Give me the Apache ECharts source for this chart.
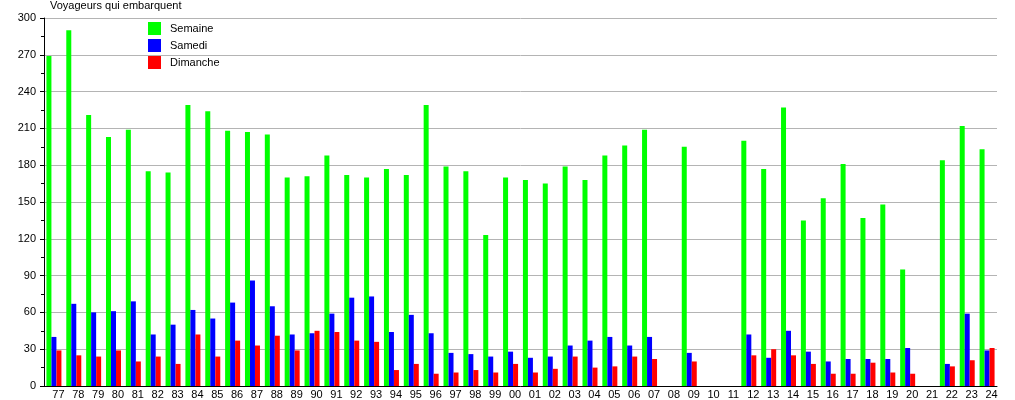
<!DOCTYPE html>
<html>
<head>
<meta charset="utf-8">
<script src="https://cdn.jsdelivr.net/npm/echarts@6/dist/echarts.min.js"></script>
<style>
  html, body { margin: 0; padding: 0; background: #fff; }
  #chart { width: 1015px; height: 400px; }
</style>
</head>
<body>
<div id="chart"></div>
<script>
// années (deux chiffres)
const annees = ['77', '78', '79', '80', '81', '82', '83', '84', '85', '86', '87', '88',
  '89', '90', '91', '92', '93', '94', '95', '96', '97', '98', '99', '00',
  '01', '02', '03', '04', '05', '06', '07', '08', '09', '10', '11', '12',
  '13', '14', '15', '16', '17', '18', '19', '20', '21', '22', '23', '24'];

const semaine = [269, 290, 221, 203, 209, 175, 174, 229, 224, 208, 207, 205,
  170, 171, 188, 172, 170, 177, 172, 229, 179, 175, 123, 170,
  168, 165, 179, 168, 188, 196, 209, null, 195, null, null, 200,
  177, 227, 135, 153, 181, 137, 148, 95, null, 184, 212, 193];

const samedi = [40, 67, 60, 61, 69, 42, 50, 62, 55, 68, 86, 65,
  42, 43, 59, 72, 73, 44, 58, 43, 27, 26, 24, 28,
  23, 24, 33, 37, 40, 33, 40, null, 27, null, null, 42,
  23, 45, 28, 20, 22, 22, 22, 31, null, 18, 59, 29];

const dimanche = [29, 25, 24, 29, 20, 24, 18, 42, 24, 37, 33, 41,
  29, 45, 44, 37, 36, 13, 18, 10, 11, 13, 11, 18,
  11, 14, 24, 15, 16, 24, 22, null, 20, null, null, 25,
  30, 25, 18, 10, 10, 19, 11, 10, null, 16, 21, 31];

const yTicks = [0, 30, 60, 90, 120, 150, 180, 210, 240, 270, 300];

const font = "'Liberation Sans', Arial, sans-serif";

const chart = echarts.init(document.getElementById('chart'));

const mkSerie = (name, data, color) => ({
  name: name,
  type: 'bar',
  data: data,
  barWidth: 5,
  barGap: '0%',
  itemStyle: { color: color },
  animation: false
});

chart.setOption({
  backgroundColor: '#fff',
  animation: false,
  title: {
    text: 'Voyageurs qui embarquent',
    left: 50,
    top: 0,
    padding: 0,
    textStyle: { fontFamily: font, fontSize: 11, fontWeight: 'normal', color: '#000' }
  },
  legend: {
    orient: 'vertical',
    left: 143,
    top: 17,
    itemWidth: 13,
    itemHeight: 13,
    itemGap: 4,
    icon: 'rect',
    textStyle: { fontFamily: font, fontSize: 11, color: '#000', padding: [0, 0, 0, 4] },
    data: ['Semaine', 'Samedi', 'Dimanche']
  },
  grid: { left: 44, right: 18, top: 18, bottom: 13, containLabel: false },
  xAxis: {
    type: 'category',
    data: annees,
    axisLine: { lineStyle: { color: '#000', width: 1 } },
    axisTick: { show: false },
    axisLabel: {
      interval: 0,
      margin: 3,
      fontFamily: font,
      fontSize: 11,
      color: '#000',
      padding: [0, 0, 0, 9]
    },
    splitLine: { show: false }
  },
  yAxis: {
    type: 'value',
    min: yTicks[0],
    max: yTicks[yTicks.length - 1],
    interval: 30,
    axisLine: { show: true, lineStyle: { color: '#000', width: 1 } },
    axisTick: { show: true, length: 4, lineStyle: { color: '#000' } },
    minorTick: { show: true, splitNumber: 2, length: 3, lineStyle: { color: '#000' } },
    axisLabel: { margin: 8, fontFamily: font, fontSize: 11, color: '#000' },
    splitLine: { show: true, lineStyle: { color: '#b4b4b4', width: 1 } }
  },
  series: [
    mkSerie('Semaine', semaine, '#00ff00'),
    mkSerie('Samedi', samedi, '#0000ff'),
    mkSerie('Dimanche', dimanche, '#ff0000')
  ]
});
</script>
</body>
</html>
